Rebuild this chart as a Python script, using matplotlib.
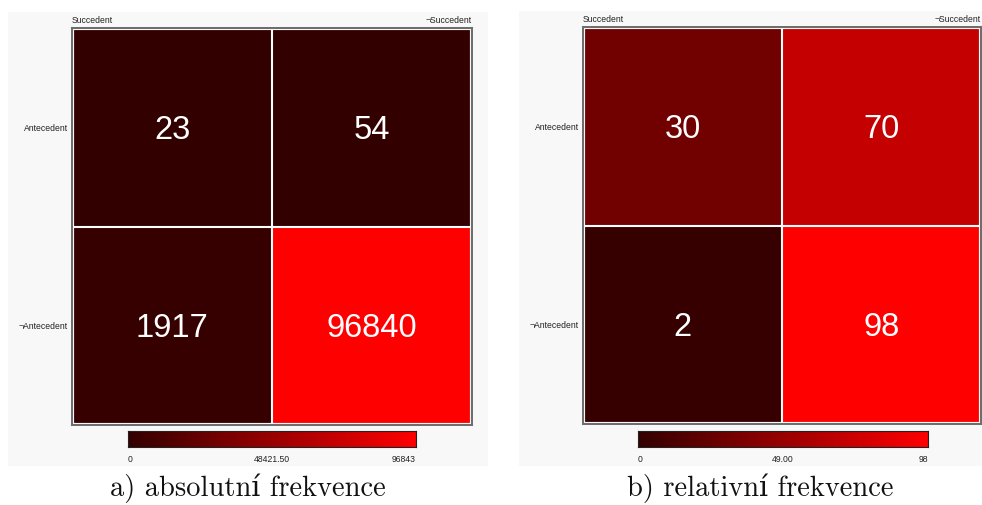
import matplotlib.pyplot as plt
import numpy as np
from matplotlib.colors import LinearSegmentedColormap
from matplotlib.patches import Rectangle

# 4ft tables: rows Antecedent / ¬Antecedent, cols Succedent / ¬Succedent
abs_freq = [[23, 54],
            [1917, 96840]]
rel_freq = [[30, 70],
            [2, 98]]
abs_scale = [0, 48421.50, 96843]
rel_scale = [0, 49.00, 98]
abs_scale_labels = ['0', '48421.50', '96843']
rel_scale_labels = ['0', '49.00', '98']
col_labels = ['Succedent', '\u00acSuccedent']
row_labels = ['Antecedent', '\u00acAntecedent']
captions = ['a) absolutní frekvence', 'b) relativní frekvence']

W, H = 982, 506
fig = plt.figure(figsize=(W / 100, H / 100), dpi=100)
fig.patch.set_facecolor('white')

cmap = LinearSegmentedColormap.from_list('dark_red', ['#330000', '#ff0000'])
small = dict(family=['Liberation Sans', 'DejaVu Sans'], fontsize=6.2, color='#222222')


def px_axes(x0, y0, x1, y1, **kw):
    return fig.add_axes([x0 / W, 1 - y1 / H, (x1 - x0) / W, (y1 - y0) / H], **kw)


def ftext(x, y, s, **kw):
    return fig.text(x / W, 1 - y / H, s, **kw)


def panel(data, scale, scale_labels, caption, bg, frame, cbar, cap_x):
    # light gray screenshot background
    fig.patches.append(Rectangle((bg[0] / W, 1 - bg[3] / H), (bg[2] - bg[0]) / W,
                                 (bg[3] - bg[1]) / H, transform=fig.transFigure,
                                 facecolor='#f8f8f8', edgecolor='none', zorder=-5))

    fx0, fy0, fx1, fy1 = frame
    ax = px_axes(fx0, fy0, fx1, fy1)
    ax.imshow(np.array(data), cmap=cmap, vmin=scale[0], vmax=scale[-1],
              aspect='auto', interpolation='nearest')
    ax.set_xticks([])
    ax.set_yticks([])
    ax.axhline(0.5, color='white', lw=1.5)
    ax.axvline(0.5, color='white', lw=1.5)
    ax.add_patch(Rectangle((0, 0), 1, 1, transform=ax.transAxes, fill=False,
                           edgecolor='white', lw=3, clip_on=False, zorder=2))
    for sp in ax.spines.values():
        sp.set_color('#6e6e6e')
        sp.set_linewidth(1.5)
        sp.set_zorder(3)

    for i in range(2):
        for j in range(2):
            ax.text(j, i + 0.01, str(data[i][j]), ha='center', va='center',
                    color='white', fontsize=23.5,
                    family=['Liberation Sans', 'DejaVu Sans'])

    # header labels
    ftext(fx0, fy0 - 6, col_labels[0], ha='left', va='baseline', **small)
    ftext(fx1, fy0 - 6, col_labels[1], ha='right', va='baseline', **small)
    cell_h = (fy1 - fy0) / 2
    for k, lab in enumerate(row_labels):
        ftext(fx0 - 4, fy0 + cell_h * (k + 0.5), lab, ha='right', va='center', **small)

    # colour scale
    cx0, cy0, cx1, cy1 = cbar
    cax = px_axes(cx0, cy0, cx1, cy1)
    grad = np.linspace(scale[0], scale[-1], 256).reshape(1, -1)
    cax.imshow(grad, cmap=cmap, vmin=scale[0], vmax=scale[-1], aspect='auto')
    cax.set_xticks([])
    cax.set_yticks([])
    for sp in cax.spines.values():
        sp.set_color('#222222')
        sp.set_linewidth(0.8)
    ftext(cx0, cy1 + 14, scale_labels[0], ha='left', va='baseline', **small)
    ftext((cx0 + cx1) / 2, cy1 + 14, scale_labels[1], ha='center', va='baseline', **small)
    ftext(cx1, cy1 + 14, scale_labels[2], ha='right', va='baseline', **small)

    ftext(cap_x, 496, caption, ha='center', va='baseline', fontsize=20.5,
          family=['cmr10', 'DejaVu Serif'], color='#111111')


panel(abs_freq, abs_scale, abs_scale_labels, captions[0],
      bg=(8, 13, 488, 467), frame=(72, 29, 472, 426),
      cbar=(128, 432, 416, 448), cap_x=248)
panel(rel_freq, rel_scale, rel_scale_labels, captions[1],
      bg=(519, 12, 982, 467), frame=(583, 28, 981, 425),
      cbar=(638, 432, 928, 448), cap_x=760)

fig.savefig('out.png', dpi=100)
